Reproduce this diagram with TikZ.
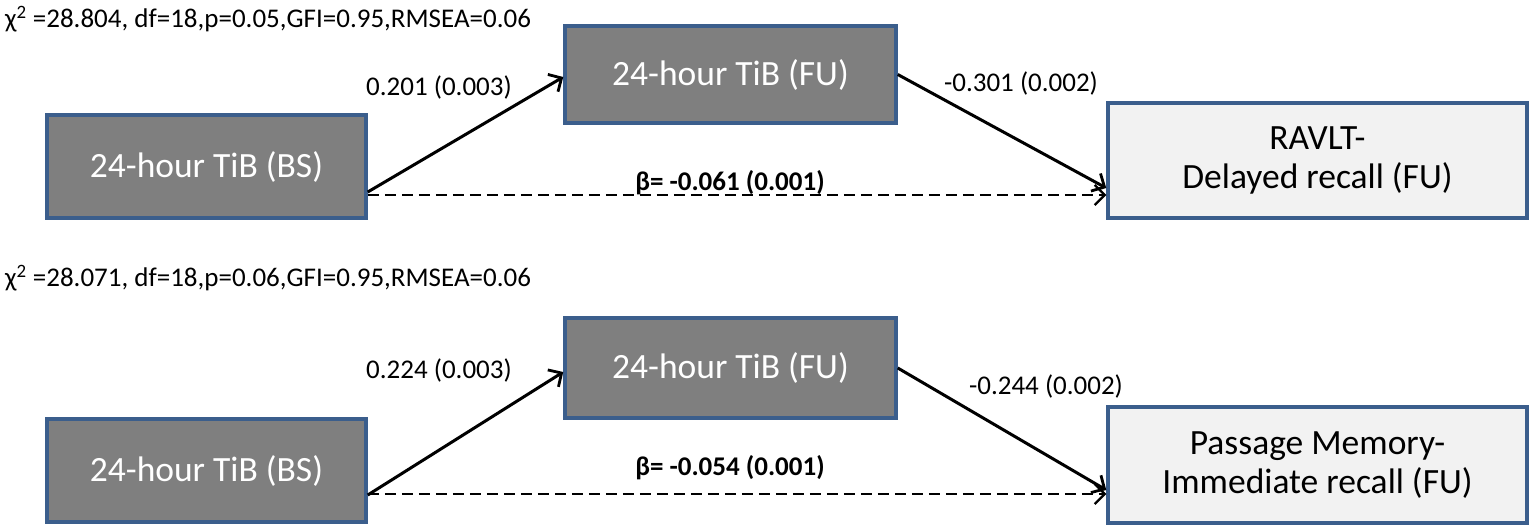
\documentclass[tikz,border=0pt]{standalone}
\usepackage{fontspec}
\setmainfont{Carlito}
\usetikzlibrary{arrows.meta}
\definecolor{boxblue}{HTML}{3B5E8C}
\definecolor{darkfill}{HTML}{7F7F7F}
\definecolor{lightfill}{HTML}{F2F2F2}
\tikzset{
  darkbox/.style={draw=boxblue, line width=3.5pt, fill=darkfill, text=white, inner sep=0pt,
    font=\fontsize{35.5}{39}\selectfont, align=center},
  lightbox/.style={draw=boxblue, line width=3.5pt, fill=lightfill, text=black, inner sep=0pt,
    font=\fontsize{35.5}{39}\selectfont, align=center},
  lbl/.style={inner sep=0pt, font=\fontsize{27}{32}\selectfont},
  blbl/.style={inner sep=0pt, font=\fontsize{27}{32}\selectfont\bfseries},
  path/.style={line width=3pt, -{Straight Barb[length=10pt,width=20pt,line width=2.8pt]}},
  dpath/.style={line width=2.3pt, dash pattern=on 11pt off 6pt, -{Straight Barb[length=10pt,width=20pt,line width=2.3pt]}}
}
\begin{document}
\begin{tikzpicture}[x=1pt,y=-1pt]
\useasboundingbox[fill=white] (0,0) rectangle (1535,532);
% top panel
\node[lbl, anchor=west] (chi1) at (5,19) {χ\textsuperscript{2} =28.804, df=18,p=0.05,GFI=0.95,RMSEA=0.06};
\node[darkbox, minimum width=319pt, minimum height=103pt] (bs1) at (206.5,166.5) {24-hour TiB (BS)};
\node[darkbox, minimum width=331pt, minimum height=97pt] (fu1) at (730.5,74.5) {24-hour TiB (FU)};
\node[lightbox, minimum width=419pt, minimum height=115pt] (rv1) at (1317.5,160.5) {RAVLT-\\Delayed recall (FU)};
\draw[path] ([yshift=-25.5pt]bs1.east) -- ([yshift=-2.5pt]fu1.west);
\draw[path] (fu1.east) -- ([yshift=-27.5pt]rv1.west);
\draw[dpath] ([yshift=-28.5pt]bs1.east) -- ([yshift=-34.5pt]rv1.west);
\node[lbl] (a1) at (439,87) {0.201 (0.003)};
\node[lbl] (b1) at (1021,83) {-0.301 (0.002)};
\node[blbl] (c1) at (730,183) {β= -0.061 (0.001)};
% bottom panel
\node[lbl, anchor=west] (chi2) at (5,278) {χ\textsuperscript{2} =28.071, df=18,p=0.06,GFI=0.95,RMSEA=0.06};
\node[darkbox, minimum width=319pt, minimum height=103pt] (bs2) at (206.5,470.5) {24-hour TiB (BS)};
\node[darkbox, minimum width=331pt, minimum height=100pt] (fu2) at (730.5,368) {24-hour TiB (FU)};
\node[lightbox, minimum width=419pt, minimum height=116pt] (pm2) at (1317.5,465) {Passage Memory-\\Immediate recall (FU)};
\draw[path] ([yshift=-24.5pt]bs2.east) -- ([yshift=-4pt]fu2.west);
\draw[path] (fu2.east) -- ([yshift=-25pt]pm2.west);
\draw[dpath] ([yshift=-23.5pt]bs2.east) -- ([yshift=-29pt]pm2.west);
\node[lbl] (a2) at (439,370) {0.224 (0.003)};
\node[lbl] (b2) at (1046,386) {-0.244 (0.002)};
\node[blbl] (c2) at (730,468) {β= -0.054 (0.001)};
\end{tikzpicture}
\end{document}
